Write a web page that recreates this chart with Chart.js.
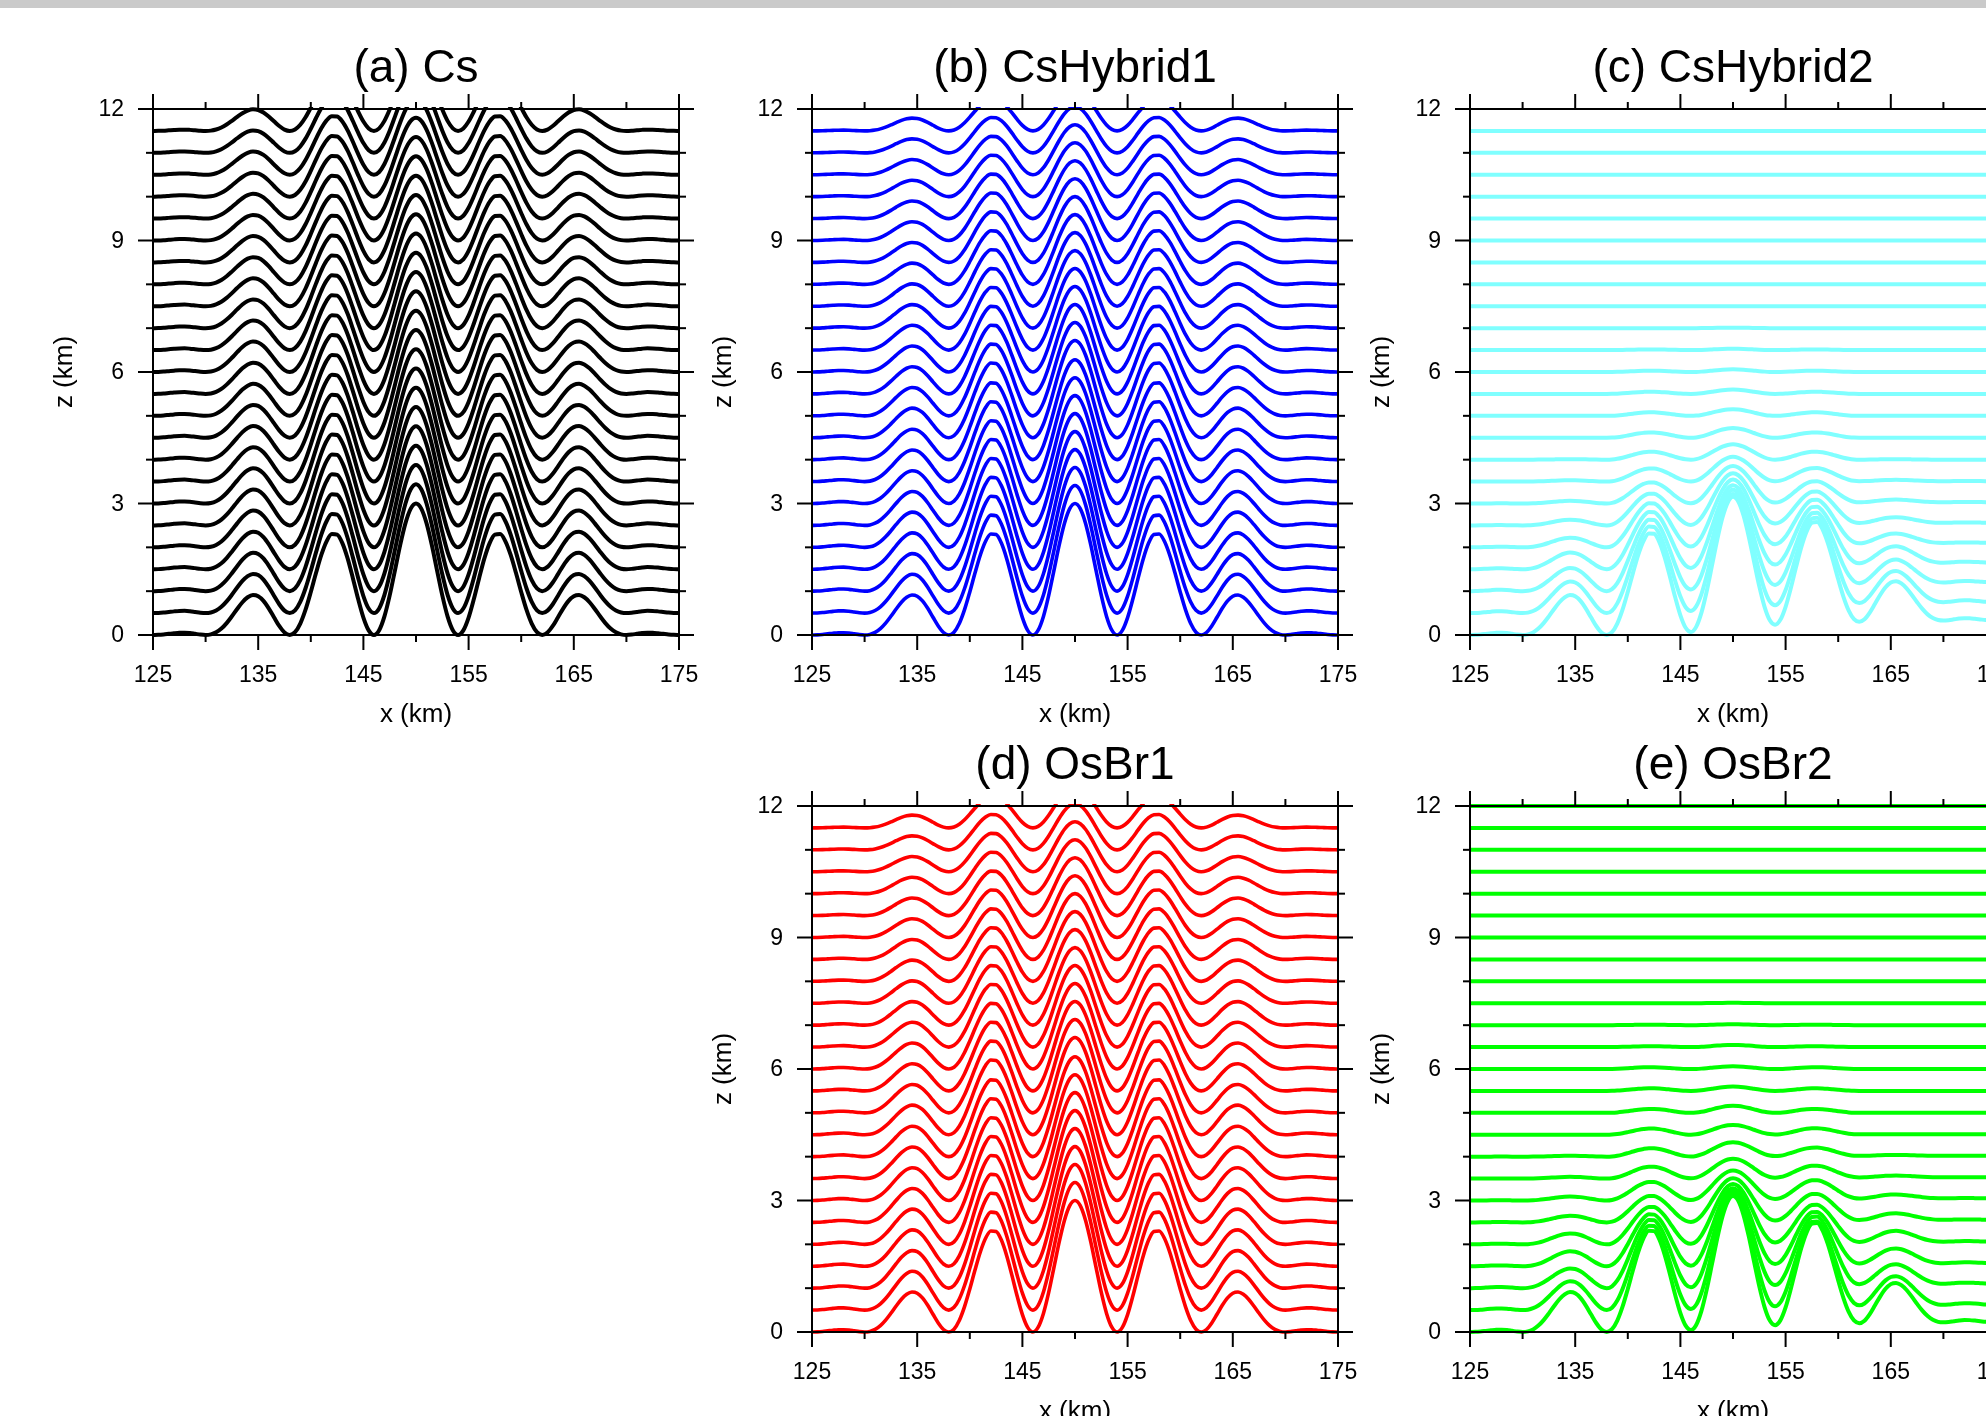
<!DOCTYPE html>
<html><head><meta charset="utf-8">
<script src="https://cdn.jsdelivr.net/npm/chart.js@4.4.1/dist/chart.umd.min.js"></script>
<style>
html,body{margin:0;padding:0;background:#fff;width:1986px;height:1416px;overflow:hidden;position:relative;font-family:"Liberation Sans",Arial,sans-serif;}
#topbar{position:absolute;left:0;top:0;width:1986px;height:8px;background:#cacaca;}
canvas{position:absolute;}
</style></head><body>
<div id="topbar"></div>
<canvas id="pa"></canvas><canvas id="pb"></canvas><canvas id="pc"></canvas><canvas id="pd"></canvas><canvas id="pe"></canvas>
<script>
// ---------------- data ----------------
const xKm = [125,125.5,126,126.5,127,127.5,128,128.5,129,129.5,130,130.5,131,131.5,132,132.5,133,133.5,134,134.5,135,135.5,136,136.5,137,137.5,138,138.5,139,139.5,140,140.5,141,141.5,142,142.5,143,143.5,144,144.5,145,145.5,146,146.5,147,147.5,148,148.5,149,149.5,150,150.5,151,151.5,152,152.5,153,153.5,154,154.5,155,155.5,156,156.5,157,157.5,158,158.5,159,159.5,160,160.5,161,161.5,162,162.5,163,163.5,164,164.5,165,165.5,166,166.5,167,167.5,168,168.5,169,169.5,170,170.5,171,171.5,172,172.5,173,173.5,174,174.5,175];
// terrain height (km), lowest surface
const terrain = [0,0.003,0.012,0.026,0.040,0.051,0.053,0.044,0.027,0.009,0,0.013,0.060,0.146,0.272,0.427,0.594,0.748,0.861,0.912,0.885,0.779,0.609,0.405,0.206,0.057,0,0.064,0.261,0.578,0.982,1.419,1.826,2.138,2.304,2.291,2.097,1.747,1.297,0.820,0.397,0.105,0,0.109,0.424,0.903,1.476,2.056,2.551,2.883,3.000,
2.883,2.551,2.056,1.476,0.903,0.424,0.109,0,0.105,0.397,0.820,1.297,1.747,2.097,2.291,2.304,2.138,1.826,1.419,0.982,0.578,0.261,0.064,0,0.057,0.206,0.405,0.609,0.779,0.885,0.912,0.861,0.748,0.594,0.427,0.272,0.146,0.060,0.013,0,0.009,0.027,0.044,0.053,0.051,0.040,0.026,0.012,0.003,0];
// lift of the low levels on the right-hand side in (c) and (e)
const rightLift = [0,0,0,0,0,0,0,0,0,0,0,0,0,0,0,0,0,0,0,0,0,0,0,0,0,0,0,0,0,
0.005,0.01,0.02,0.03,0.04,0.05,0.065,0.08,0.10,0.12,0.14,0.16,0.18,0.20,0.23,0.26,0.29,0.32,0.355,0.39,0.425,0.46,0.495,0.53,0.565,0.60,0.63,0.66,0.685,0.71,0.73,0.75,0.77,0.79,0.805,0.82,0.835,0.85,0.86,0.87,0.88,0.89,0.895,0.90,0.905,0.91,0.92,0.93,0.935,0.94,0.945,0.95,0.955,0.96,0.965,0.97,0.975,0.98,0.985,0.99,0.995,
1,1,1,1,1,1,1,1,1,1,1];
const levels = [0,0.5,1,1.5,2,2.5,3,3.5,4,4.5,5,5.5,6,6.5,7,7.5,8,8.5,9,9.5,10,10.5,11,11.5,12];
// valleys separating the hills, and the hill class between them
const valleys = [130,138,146,154,162,170];
const hillClass = ['S','S','M','L','M','S','S'];
const hillPeak = {S:0.912, M:2.304, L:3.0};
// fraction of terrain imprint kept by each level
const fracA = [1.00,0.98,0.96,0.94,0.92,0.90,0.88,0.86,0.84,0.82,0.80,0.78,0.76,0.74,0.72,0.70,0.68,0.66,0.64,0.62,0.60,0.58,0.56,0.54];
const fracB = [1.00,0.97,0.94,0.91,0.88,0.85,0.82,0.79,0.76,0.74,0.71,0.68,0.65,0.62,0.59,0.56,0.53,0.50,0.47,0.44,0.41,0.38,0.35,0.32];
const fracD = [1.00,0.97,0.94,0.91,0.88,0.85,0.82,0.79,0.76,0.74,0.71,0.68,0.65,0.62,0.59,0.56,0.53,0.50,0.47,0.44,0.41,0.38,0.35,0.32];
// hill amplitudes (km above level) for (c) CsHybrid2
const cAmpS = [0.91,0.72,0.53,0.38,0.22,0.13,0.06,0.03,0.01,0,0,0,0,0,0,0,0,0,0,0,0,0,0,0];
const cAmpM = [2.30,1.96,1.62,1.30,1.00,0.72,0.48,0.30,0.18,0.12,0.08,0.05,0.03,0.015,0,0,0,0,0,0,0,0,0,0];
const cAmpL = [3.00,2.60,2.22,1.85,1.50,1.16,0.84,0.56,0.35,0.22,0.15,0.10,0.06,0.03,0.01,0,0,0,0,0,0,0,0,0];
const cLift = [0.33,0.25,0.20,0.15,0.10,0.06,0.03,0.01,0,0,0,0,0,0,0,0,0,0,0,0,0,0,0,0];
// hill amplitudes for (e) OsBr2
const eAmpS = [0.91,0.66,0.45,0.34,0.25,0.15,0.09,0.04,0.02,0,0,0,0,0,0,0,0,0,0,0,0,0,0,0,0];
const eAmpM = [2.30,1.92,1.55,1.18,0.85,0.60,0.42,0.27,0.19,0.14,0.09,0.06,0.04,0.02,0.01,0,0,0,0,0,0,0,0,0,0];
const eAmpL = [3.00,2.58,2.16,1.75,1.35,0.98,0.66,0.44,0.32,0.22,0.16,0.10,0.06,0.05,0.02,0.01,0,0,0,0,0,0,0,0,0];
const eLift = [0.22,0.12,0.10,0.07,0.06,0.06,0.05,0.03,0.02,0.01,0,0,0,0,0,0,0,0,0,0,0,0,0,0,0];

const xMajor = [125,135,145,155,165,175];
const xMinor = [130,140,150,160,170];
const yMajor = [0,3,6,9,12];
const yMinor = [1,2,4,5,7,8,10,11];

// ---------------- building ----------------
function classAt(x){ let k=0; while(k<valleys.length && x>valleys[k]) k++; return hillClass[k]; }

function seriesUniform(frac){
  return frac.map((f,k)=>xKm.map((x,i)=>({x:x, y:levels[k]+f*terrain[i]})));
}
function seriesHills(ampS,ampM,ampL,lift){
  const amp={S:ampS,M:ampM,L:ampL};
  return ampS.map((_,k)=>xKm.map((x,i)=>{
    const c=classAt(x);
    return {x:x, y:levels[k]+amp[c][k]/hillPeak[c]*terrain[i]+lift[k]*rightLift[i]};
  }));
}

const PW=526, PH=526, PADL=140, PADT=100, CW=760, CH=760;
const FONT='"Liberation Sans", Arial, Helvetica, sans-serif';

const axesPlugin = {
  id:'nclAxes',
  afterDatasetsDraw(chart, args, opts){
    const ctx=chart.ctx, a=chart.chartArea, sx=chart.scales.x, sy=chart.scales.y;
    ctx.save();
    ctx.strokeStyle='#000'; ctx.lineWidth=2; ctx.lineCap='butt';
    ctx.strokeRect(a.left, a.top, a.right-a.left, a.bottom-a.top);
    const tick=(x1,y1,x2,y2)=>{ctx.beginPath();ctx.moveTo(x1,y1);ctx.lineTo(x2,y2);ctx.stroke();};
    const big=15, small=7;
    xMajor.forEach(v=>{const p=sx.getPixelForValue(v); tick(p,a.bottom,p,a.bottom+big); tick(p,a.top,p,a.top-big);});
    xMinor.forEach(v=>{const p=sx.getPixelForValue(v); tick(p,a.bottom,p,a.bottom+small); tick(p,a.top,p,a.top-small);});
    yMajor.forEach(v=>{const p=sy.getPixelForValue(v); tick(a.left,p,a.left-big,p); tick(a.right,p,a.right+big,p);});
    yMinor.forEach(v=>{const p=sy.getPixelForValue(v); tick(a.left,p,a.left-small,p); tick(a.right,p,a.right+small,p);});
    ctx.fillStyle='#000';
    ctx.font='23px '+FONT;
    ctx.textAlign='center'; ctx.textBaseline='middle';
    xMajor.forEach(v=>ctx.fillText(String(v), sx.getPixelForValue(v), a.bottom+41));
    ctx.textAlign='right';
    yMajor.forEach(v=>ctx.fillText(String(v), a.left-29, sy.getPixelForValue(v)+1));
    ctx.font='26px '+FONT;
    ctx.textAlign='center';
    ctx.fillText('x (km)', (a.left+a.right)/2, a.bottom+80);
    ctx.save();
    ctx.translate(a.left-88, (a.top+a.bottom)/2);
    ctx.rotate(-Math.PI/2);
    ctx.fillText('z (km)', 0, 0);
    ctx.restore();
    ctx.font='46px '+FONT;
    ctx.textBaseline='alphabetic';
    ctx.fillText(opts.title, (a.left+a.right)/2, a.top-27);
    ctx.restore();
  }
};

function makePanel(id, plotLeft, plotTop, title, color, width, lines){
  const cv=document.getElementById(id);
  cv.width=CW; cv.height=CH;
  cv.style.left=(plotLeft-PADL)+'px'; cv.style.top=(plotTop-PADT)+'px';
  cv.style.width=CW+'px'; cv.style.height=CH+'px';
  const datasets=lines.map(d=>({data:d, borderColor:color, borderWidth:width, pointRadius:0, fill:false,
    cubicInterpolationMode:'monotone', clip:{left:0,top:2,right:0,bottom:3}}));
  new Chart(cv, {
    type:'line',
    data:{datasets},
    options:{
      responsive:false, animation:false, events:[], devicePixelRatio:1,
      layout:{padding:{left:PADL, top:PADT, right:CW-PADL-PW, bottom:CH-PADT-PH}},
      scales:{
        x:{type:'linear', min:125, max:175, display:false},
        y:{type:'linear', min:0, max:12, display:false}
      },
      plugins:{legend:{display:false}, tooltip:{enabled:false}, title:{display:false}, nclAxes:{title:title}}
    },
    plugins:[axesPlugin]
  });
}

makePanel('pa', 153, 109, '(a) Cs', '#000000', 4, seriesUniform(fracA));
makePanel('pb', 812, 109, '(b) CsHybrid1', '#0000ff', 3.6, seriesUniform(fracB));
makePanel('pc', 1470, 109, '(c) CsHybrid2', '#80ffff', 4, seriesHills(cAmpS,cAmpM,cAmpL,cLift));
makePanel('pd', 812, 806, '(d) OsBr1', '#ff0000', 3.6, seriesUniform(fracD));
makePanel('pe', 1470, 806, '(e) OsBr2', '#00ff00', 4, seriesHills(eAmpS,eAmpM,eAmpL,eLift));
</script>
</body></html>
